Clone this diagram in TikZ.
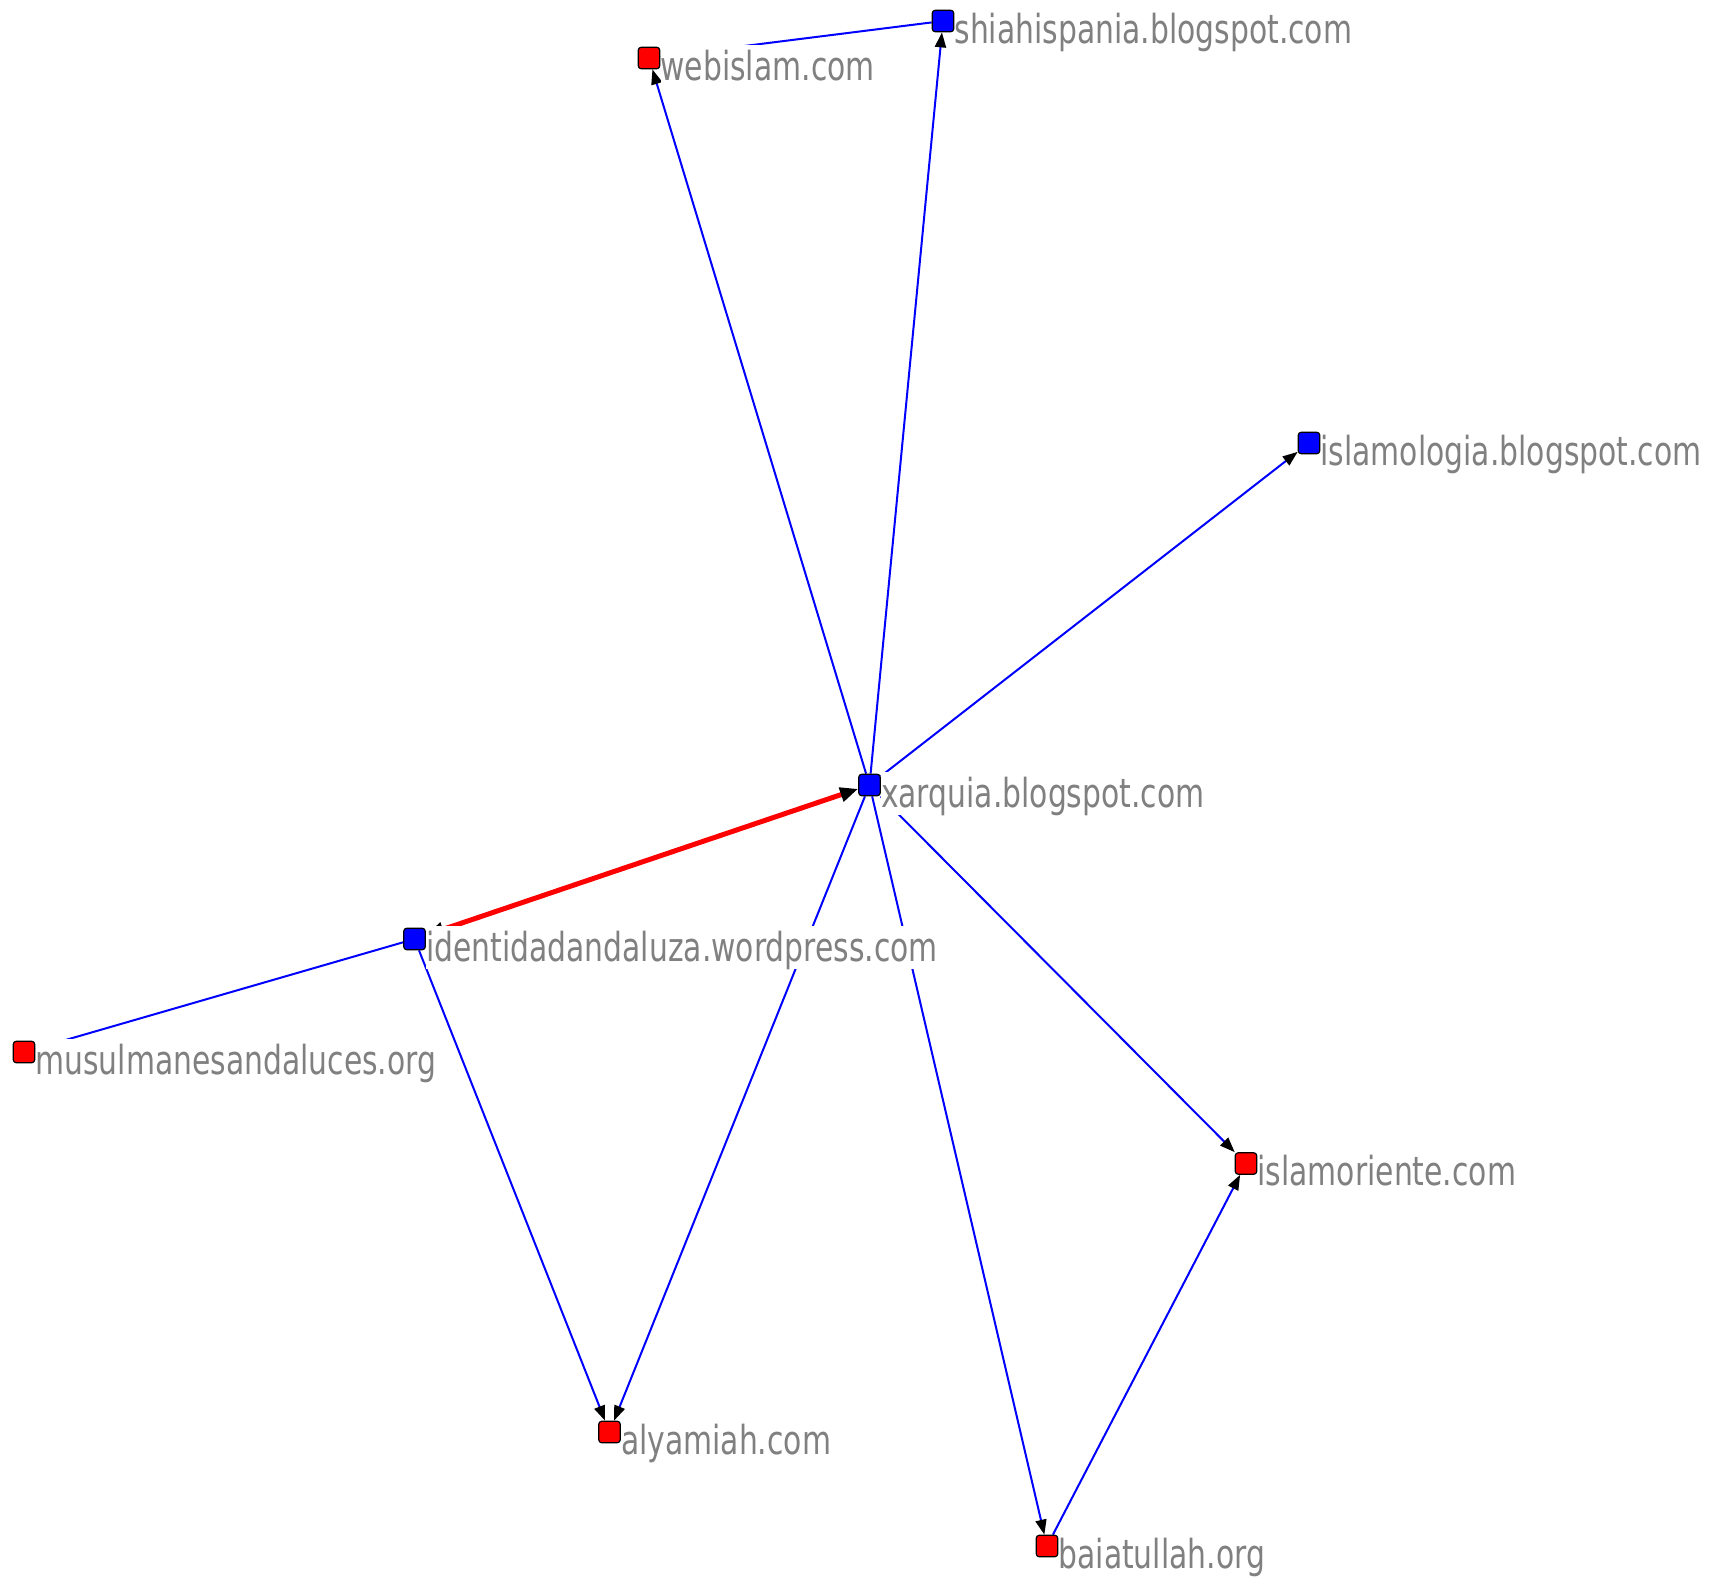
\documentclass[tikz,border=0pt]{standalone}
\usepackage{fontspec}
\setmainfont{DejaVu Sans}[FakeStretch=0.745]
\usetikzlibrary{arrows.meta,backgrounds}
\definecolor{lblgray}{RGB}{128,128,128}

\begin{document}
\begin{tikzpicture}[x=1pt, y=-1pt,
    site/.style={rectangle, draw=black, line width=1.2pt, rounded corners=3pt, minimum size=21.5pt, inner sep=0pt},
    blog/.style={site, fill=blue},
    web/.style={site, fill=red},
    lbl/.style={anchor=north west, fill=white, inner sep=0pt, text height=35pt, text depth=8pt, text=lblgray, font=\fontsize{40}{48}\selectfont},
    link/.style={draw=blue, line width=2pt, -{Triangle[length=15pt,width=11pt,color=black]}},
    mutual/.style={draw=red, line width=5pt, {Triangle[length=18pt,width=14pt,color=black]}-{Triangle[length=18pt,width=14pt,color=black]}}
]
\useasboundingbox (0,0) rectangle (1712,1580);

\node[blog] (sh) at (943,21) {};
\node[web] (wb) at (649,58) {};
\node[blog] (il) at (1309,443) {};
\node[blog] (xq) at (869.5,785) {};
\node[blog] (id) at (414.5,939) {};
\node[web] (mu) at (24,1052) {};
\node[web] (io) at (1246,1163.5) {};
\node[web] (al) at (609.5,1432) {};
\node[web] (ba) at (1047,1546) {};

\node[lbl] (sh-l) at ([yshift=1.5pt]sh.north east) {shiahispania.blogspot.com};
\node[lbl] (wb-l) at ([yshift=1.5pt]wb.north east) {webislam.com};
\node[lbl] (il-l) at ([yshift=1.5pt]il.north east) {islamologia.blogspot.com};
\node[lbl] (xq-l) at ([yshift=1.5pt]xq.north east) {xarquia.blogspot.com};
\node[lbl] (id-l) at ([yshift=1.5pt]id.north east) {identidadandaluza.wordpress.com};
\node[lbl] (mu-l) at ([yshift=1.5pt]mu.north east) {musulmanesandaluces.org};
\node[lbl] (io-l) at ([yshift=1.5pt]io.north east) {islamoriente.com};
\node[lbl] (al-l) at ([yshift=1.5pt]al.north east) {alyamiah.com};
\node[lbl] (ba-l) at ([yshift=1.5pt]ba.north east) {baiatullah.org};

\begin{scope}[on background layer]
\draw[link] (xq) -- (wb);
\draw[link] (xq) -- (sh);
\draw[link] (xq) -- (il);
\draw[link] (xq) -- (io);
\draw[link] (xq) -- (ba);
\draw[link] (xq) -- (al);
\draw[link] (id) -- (al);
\draw[link] (id) -- (mu);
\draw[link] (sh) -- (wb);
\draw[link] (ba) -- (io);
\draw[mutual] (id) -- (xq);
\end{scope}
\end{tikzpicture}
\end{document}
